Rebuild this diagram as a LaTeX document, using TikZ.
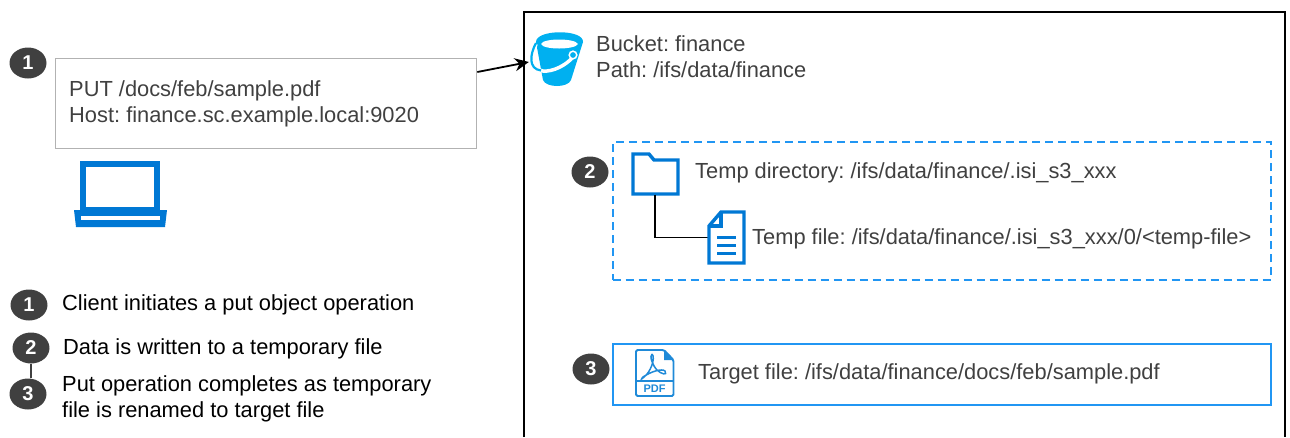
\documentclass[tikz,border=0pt]{standalone}
\usepackage{fontspec}
\setmainfont{Liberation Sans}
\usetikzlibrary{arrows.meta,shapes.geometric}
\definecolor{txt}{HTML}{404040}
\definecolor{iconblue}{HTML}{0078D4}
\definecolor{boxblue}{HTML}{2196F3}
\definecolor{bucketblue}{HTML}{00B0F0}
\definecolor{pdfblue}{HTML}{1F8AD8}
\tikzset{
  bubble/.style={ellipse,fill=txt,text=white,minimum width=37pt,minimum height=31pt,inner sep=0pt,font=\fontsize{20}{20}\selectfont\bfseries},
  label/.style={anchor=west,align=left,inner sep=0pt,text=txt,font=\fontsize{21.85}{26}\selectfont\frenchspacing},
  legend/.style={anchor=west,align=left,inner sep=0pt,text=black,font=\fontsize{21.85}{26}\selectfont\frenchspacing},
  holder/.style={inner sep=0pt,minimum width=#1},
  iconline/.style={draw=iconblue,line width=3.4pt,miter limit=10}
}
\begin{document}
\begin{tikzpicture}[x=1pt,y=-1pt]
\useasboundingbox (0,0) rectangle (1290,437);
% bucket container
\draw[line width=2pt,black] (524,437) -- (524,12) -- (1285,12) -- (1285,437);
% request box
\node[draw={rgb,255:red,178;green,178;blue,178},line width=1.3pt,minimum width=421pt,minimum height=90pt,inner sep=0pt,anchor=north west] (req) at (55,58) {};
\node[label] (reqtext) at (69,103.5) {PUT /docs/feb/sample.pdf\\Host: finance.sc.example.local:9020};
\node[bubble] (b1) at (28,63) {1};
% laptop
\draw[iconblue,line width=6pt,miter limit=10] (83,164) rectangle (157,210);
\fill[iconblue] (74,210) -- (167,210) -- (165,227) -- (76,227) -- cycle;
\fill[white] (81,216) rectangle (160,220);
% bucket
\node[inner sep=0pt,minimum width=54pt,minimum height=52pt] (bucket) at (556,60) {};
\fill[bucketblue] (536,42) .. controls (536,29) and (584,29) .. (583,42) -- (571,80) .. controls (568,88) and (546,88) .. (543,80) -- cycle;
\fill[white] (541,44) .. controls (543,38) and (575,38) .. (578,44) .. controls (575,50) and (543,50) .. (541,44) -- cycle;
\draw[white,line width=3.5pt] (536,44) .. controls (531,56) and (533,70) .. (543,71) .. controls (553,72) and (566,65) .. (572,58);
\draw[bucketblue,line width=2.2pt] (536,43) .. controls (530,54) and (528,69) .. (541,70.5);
\draw[white,line width=1.5pt,fill=bucketblue] (573,55) circle (3.8pt);
\node[label] (btext) at (596,57) {Bucket: finance\\Path: /ifs/data/finance};
\draw[-{Stealth[length=14pt,width=13pt]},line width=1.8pt,black] (req.east |- 0,72) -- (bucket.west |- 0,62);
% temp area
\node[draw=boxblue,dashed,dash pattern=on 8pt off 5pt,line width=2pt,minimum width=658pt,minimum height=138pt,inner sep=0pt,anchor=north west] (tempbox) at (611.5,141) {};
\node[bubble] (b2r) at (590,172) {2};
\node[holder=46pt,minimum height=42pt] (folder) at (655,173.5) {};
\draw[iconline] (633,194) -- (633,154) -- (649,154) -- (654,160) -- (678,160) -- (678,194) -- cycle;
\node[holder=37pt,minimum height=53pt] (doc) at (726.5,237.5) {};
\draw[black,line width=1.3pt] (folder.south) |- (doc.west);
\draw[iconline,fill=white] (709,226) -- (721,212) -- (744,212) -- (744,263) -- (709,263) -- cycle;
\draw[iconline] (709,226) -- (721,226) -- (721,212);
\draw[iconblue,line width=3pt] (717,237) -- (736,237) (717,245) -- (736,245) (717,253) -- (736,253);
\node[label] (tdir) at (695,173) {Temp directory: /ifs/data/finance/.isi\_s3\_xxx};
\node[label] (tfile) at (752,238.5) {Temp file: /ifs/data/finance/.isi\_s3\_xxx/0/<temp-file>};
% target area
\node[draw=boxblue,line width=2pt,minimum width=658pt,minimum height=61pt,inner sep=0pt,anchor=north west] (target) at (611.5,343) {};
\node[bubble] (b3r) at (591,369) {3};
\node[holder=39pt,minimum height=48pt] (pdf) at (654.5,373) {};
\draw[pdfblue,line width=1.9pt,rounded corners=1.5pt] (636,350) -- (664,350) -- (673.5,360) -- (673.5,396) -- (636,396) -- cycle;
\fill[pdfblue] (664,350) -- (673.5,360) -- (664,360) -- cycle;
\draw[pdfblue,line width=1.6pt] (636,381) -- (673.5,381);
\draw[pdfblue,line width=1.5pt] (652,354) .. controls (649,356) and (653,366) .. (657,370) .. controls (661,374) and (668,376) .. (665,371) .. controls (662,368) and (650,372) .. (643,377) .. controls (641,379) and (641,380) .. (644,377) .. controls (650,373) and (656,358) .. (652,354);
\node[inner sep=0pt,text=pdfblue,font=\fontsize{11}{11}\selectfont\bfseries] (pdfl) at (654.5,388.5) {PDF};
\node[label] (ttext) at (698,373.5) {Target file: /ifs/data/finance/docs/feb/sample.pdf};
% legend
\node[bubble] (l1) at (29,305) {1};
\node[legend] at (62,305) {Client initiates a put object operation};
\node[bubble] (l2) at (31,348) {2};
\node[bubble] (l3) at (28,394) {3};
\draw[txt,line width=1.3pt] (l2) -- (l2 |- l3.north);
\node[legend] at (63,349) {Data is written to a temporary file};
\node[legend] at (62,399) {Put operation completes as temporary\\file is renamed to target file};
\end{tikzpicture}
\end{document}
